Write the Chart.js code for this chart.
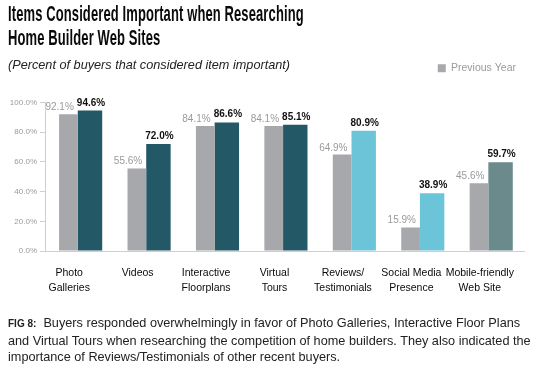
<!DOCTYPE html>
<html>
<head>
<meta charset="utf-8">
<script src="https://cdn.jsdelivr.net/npm/chart.js@4.4.1/dist/chart.umd.min.js"></script>
<style>
  body { margin: 0; background: #fff; }
  #wrap { position: relative; width: 550px; height: 367px; overflow: hidden; }
  #chartBox { position: absolute; left: 0; top: 0; width: 550px; height: 367px; }
  .titulo { position: absolute; left: 8px; top: 2px; font-family: "Liberation Sans", sans-serif;
    font-weight: bold; font-size: 22px; line-height: 23.5px; color: #0a0a0a; white-space: nowrap;
    transform: scaleX(0.59); transform-origin: left top; letter-spacing: 0.2px; }
  .subtitulo { position: absolute; left: 8px; top: 58px; font-family: "Liberation Sans", sans-serif; font-style: italic;
    font-size: 12.7px; line-height: 14px; color: #222; white-space: nowrap; }
  .pie { position: absolute; left: 8px; top: 315px; font-family: "Liberation Sans", sans-serif;
    font-size: 12.7px; line-height: 16.5px; color: #222; white-space: nowrap; }
  .pie b { font-size: 10px; }
</style>
</head>
<body>
<div id="wrap">
  <div id="chartBox"><canvas id="myChart"></canvas></div>
  <div class="titulo">Items Considered Important when Researching<br>Home Builder Web Sites</div>
  <div class="subtitulo">(Percent of buyers that considered item important)</div>
  <div class="pie"><b>FIG 8:</b>&nbsp; Buyers responded overwhelmingly in favor of Photo Galleries, Interactive Floor Plans<br>and Virtual Tours when researching the competition of home builders. They also indicated the<br>importance of Reviews/Testimonials of other recent buyers.</div>
</div>
<script>
// Datos
const categorias = [['Photo', 'Galleries'], ['Videos'], ['Interactive', 'Floorplans'], ['Virtual', 'Tours'],
    ['Reviews/', 'Testimonials'], ['Social Media', 'Presence'], ['Mobile-friendly', 'Web Site']];
const anioAnterior = [92.1, 55.6, 84.1, 84.1, 64.9, 15.9, 45.6];
const anioActual = [94.6, 72.0, 86.6, 85.1, 80.9, 38.9, 59.7];
const ticksY = [0, 20, 40, 60, 80, 100];

const GRIS = '#a7a8ab';
const coloresActual = ['#235867', '#235867', '#235867', '#235867', '#6cc4d9', '#6cc4d9', '#6a8a8b'];
const FUENTE = '"Liberation Sans", Arial, sans-serif';

// Etiquetas de valor encima de cada barra
const etiquetasValor = {
    id: 'etiquetasValor',
    afterDatasetsDraw(chart) {
        const ctx = chart.ctx;
        ctx.save();
        ctx.textBaseline = 'alphabetic';
        chart.data.datasets.forEach((ds, i) => {
            const meta = chart.getDatasetMeta(i);
            meta.data.forEach((bar, j) => {
                const p = bar.getProps(['x', 'y', 'width'], true);
                const texto = ds.data[j].toFixed(1) + '%';
                if (i === 0) {
                    ctx.font = '10px ' + FUENTE;
                    ctx.fillStyle = '#9a9a9d';
                    ctx.textAlign = 'right';
                    ctx.fillText(texto, p.x + p.width / 2 - 4, p.y - 4);
                } else {
                    ctx.font = 'bold 10px ' + FUENTE;
                    ctx.fillStyle = '#111';
                    ctx.textAlign = 'center';
                    ctx.fillText(texto, p.x + 1, p.y - 5);
                }
            });
        });
        ctx.restore();
    }
};

const ctx = document.getElementById('myChart').getContext('2d');
new Chart(ctx, {
    type: 'bar',
    data: {
        labels: categorias,
        datasets: [{
            label: 'Previous Year',
            data: anioAnterior,
            backgroundColor: GRIS,
            categoryPercentage: 0.63,
            barPercentage: 0.868
        }, {
            label: 'Current Year',
            data: anioActual,
            backgroundColor: coloresActual,
            categoryPercentage: 0.63,
            barPercentage: 1.133
        }]
    },
    options: {
        responsive: true,
        maintainAspectRatio: false,
        animation: false,
        layout: { padding: { top: 55, bottom: 72, left: 0, right: 26 } },
        plugins: {
            legend: {
                position: 'top',
                align: 'end',
                labels: {
                    filter: item => item.datasetIndex === 0,
                    boxWidth: 8,
                    boxHeight: 8,
                    padding: 8,
                    color: '#9a9a9d',
                    font: { family: FUENTE, size: 10.5 }
                }
            },
            tooltip: { enabled: false }
        },
        scales: {
            x: {
                grid: { drawOnChartArea: false, drawTicks: false },
                border: { color: '#cfcfcf', width: 1 },
                afterFit: scale => { scale.height = 44; },
                ticks: {
                    color: '#0a0a0a',
                    padding: 14,
                    labelOffset: -10,
                    maxRotation: 0,
                    autoSkip: false,
                    font: { family: FUENTE, size: 10.5, lineHeight: 1.45 }
                }
            },
            // eje superior vacío: solo separa la leyenda del área del gráfico
            xTop: {
                type: 'category',
                position: 'top',
                grid: { display: false },
                border: { display: false },
                ticks: { display: false },
                afterFit: scale => { scale.height = 19; }
            },
            y: {
                min: 0,
                max: 100,
                afterFit: scale => { scale.width = 45; },
                afterBuildTicks: scale => { scale.ticks = ticksY.map(v => ({ value: v })); },
                grid: { drawOnChartArea: false, tickLength: 5, color: '#cfcfcf' },
                border: { color: '#cfcfcf', width: 1 },
                ticks: {
                    color: '#9a9a9d',
                    padding: 3,
                    font: { family: FUENTE, size: 8 },
                    callback: v => v.toFixed(1) + '%'
                }
            }
        }
    },
    plugins: [etiquetasValor]
});
</script>
</body>
</html>
